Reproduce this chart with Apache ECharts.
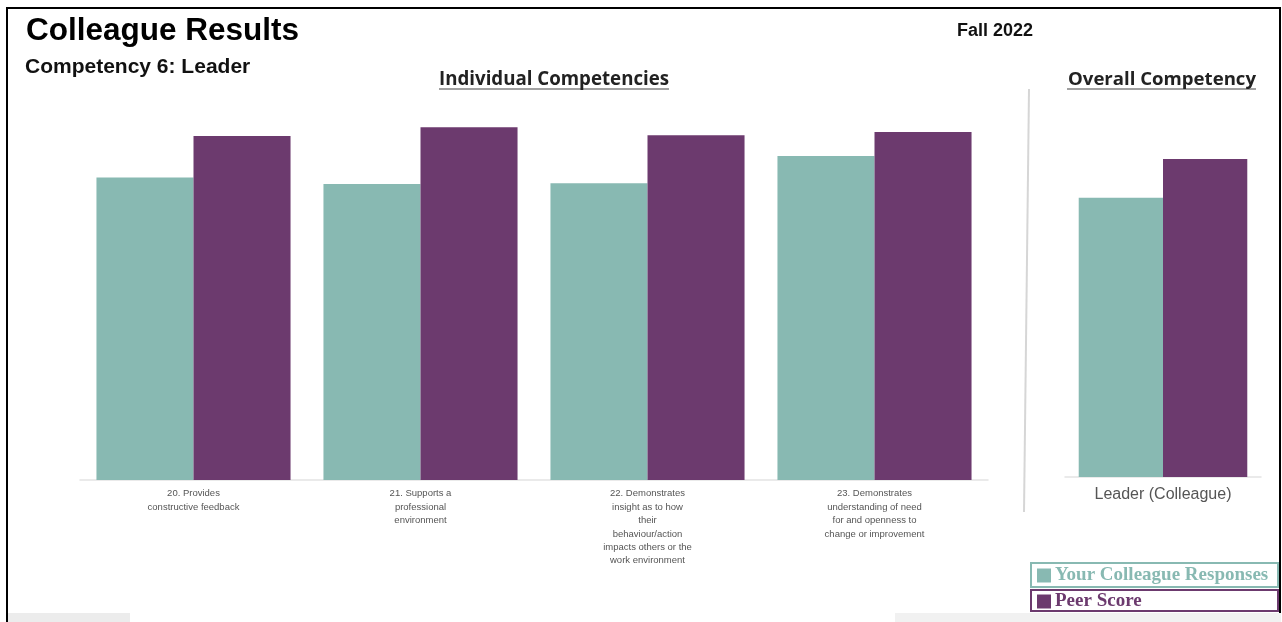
<!DOCTYPE html>
<html>
<head>
<meta charset="utf-8">
<script src="https://cdn.jsdelivr.net/npm/echarts@6/dist/echarts.min.js"></script>
<style>
html,body{margin:0;padding:0;background:#fff;}
#chart{width:1282px;height:622px;}
</style>
</head>
<body>
<div id="chart"></div>
<script>
const categories = [
  "20. Provides\nconstructive feedback",
  "21. Supports a\nprofessional\nenvironment",
  "22. Demonstrates\ninsight as to how\ntheir\nbehaviour/action\nimpacts others or the\nwork environment",
  "23. Demonstrates\nunderstanding of need\nfor and openness to\nchange or improvement"
];
const colleagueScores = [3.78, 3.70, 3.71, 4.05];
const peerScores = [4.30, 4.41, 4.31, 4.35];
const overallCategory = ["Leader (Colleague)"];
const overallColleague = [3.81];
const overallPeer = [4.34];
const seriesNames = ["Your Colleague Responses", "Peer Score"];

const TEAL = "#88B9B2";
const PURPLE = "#6C3A6E";

const chart = echarts.init(document.getElementById('chart'), null, {renderer: 'canvas'});
const titleFont = "'Liberation Sans', Arial, sans-serif";
const headFont = "'Open Sans', 'Noto Sans', sans-serif";
const legendFont = "'Liberation Serif', 'DejaVu Serif', serif";

const option = {
  animation: false,
  backgroundColor: '#fff',
  title: [
    {text: 'Colleague Results', left: 21, top: 10,
     textStyle: {fontFamily: titleFont, fontSize: 31.5, fontWeight: 'bold', color: '#000'}},
    {text: 'Competency 6: Leader', left: 20, top: 52,
     textStyle: {fontFamily: titleFont, fontSize: 21, fontWeight: 'bold', color: '#111'}},
    {text: 'Fall 2022', left: 952, top: 17,
     textStyle: {fontFamily: titleFont, fontSize: 18, fontWeight: 'bold', color: '#111'}},
    {text: 'Individual Competencies', left: 434, top: 65,
     textStyle: {fontFamily: headFont, fontSize: 18.7, fontWeight: 'bold', color: '#222'}},
    {text: 'Overall Competency', left: 1063, top: 65,
     textStyle: {fontFamily: headFont, fontSize: 18.6, fontWeight: 'bold', color: '#222'}}
  ],
  legend: [
    {data: [seriesNames[0]], left: 1037, top: 566, icon: 'rect', itemWidth: 14, itemHeight: 14,
     itemGap: 4, padding: 0, selectedMode: false,
     textStyle: {fontFamily: legendFont, fontSize: 19, fontWeight: 'bold', color: TEAL, padding: [0,0,0,-1]}},
    {data: [seriesNames[1]], left: 1037, top: 592, icon: 'rect', itemWidth: 14, itemHeight: 14,
     itemGap: 4, padding: 0, selectedMode: false,
     textStyle: {fontFamily: legendFont, fontSize: 19, fontWeight: 'bold', color: PURPLE, padding: [0,0,0,-1]}}
  ],
  grid: [
    {left: 80, right: 1282 - 988, top: 80, bottom: 142},
    {left: 1065, right: 21, top: 110.6, bottom: 145}
  ],
  xAxis: [
    {type: 'category', gridIndex: 0, data: categories,
     axisLine: {lineStyle: {color: '#e3e3e3', width: 1.5}}, axisTick: {show: false},
     axisLabel: {interval: 0, margin: 7, fontFamily: "'Liberation Sans', Arial, sans-serif",
                 fontSize: 9.5, lineHeight: 13.4, color: '#555', align: 'center'}},
    {type: 'category', gridIndex: 1, data: overallCategory,
     axisLine: {lineStyle: {color: '#e3e3e3', width: 1.5}}, axisTick: {show: false},
     axisLabel: {margin: 10, fontFamily: "'Liberation Sans', Arial, sans-serif", fontSize: 16, color: '#555'}}
  ],
  yAxis: [
    {type: 'value', gridIndex: 0, min: 0, max: 5, show: false, splitLine: {show: false}},
    {type: 'value', gridIndex: 1, min: 0, max: 5, show: false, splitLine: {show: false}}
  ],
  series: [
    {name: seriesNames[0], type: 'bar', xAxisIndex: 0, yAxisIndex: 0, data: colleagueScores,
     itemStyle: {color: TEAL}, barGap: '0%', barCategoryGap: '14.5%'},
    {name: seriesNames[1], type: 'bar', xAxisIndex: 0, yAxisIndex: 0, data: peerScores,
     itemStyle: {color: PURPLE}, barGap: '0%', barCategoryGap: '14.5%'},
    {name: seriesNames[0], type: 'bar', xAxisIndex: 1, yAxisIndex: 1, data: overallColleague,
     itemStyle: {color: TEAL}, barGap: '0%', barCategoryGap: '14%'},
    {name: seriesNames[1], type: 'bar', xAxisIndex: 1, yAxisIndex: 1, data: overallPeer,
     itemStyle: {color: PURPLE}, barGap: '0%', barCategoryGap: '14%'}
  ],
  graphic: [
    {type: 'rect', shape: {x: 7, y: 8, width: 1273, height: 620}, silent: true,
     style: {fill: 'none', stroke: '#000', lineWidth: 2}},
    {type: 'rect', shape: {x: 8, y: 613, width: 122, height: 9}, silent: true, style: {fill: '#ececec'}},
    {type: 'rect', shape: {x: 895, y: 613, width: 386, height: 9}, silent: true, style: {fill: '#f1f1f1'}},
    {type: 'line', shape: {x1: 439, y1: 89, x2: 669, y2: 89}, silent: true, style: {stroke: '#444', lineWidth: 1.2}},
    {type: 'line', shape: {x1: 1067, y1: 89, x2: 1256, y2: 89}, silent: true, style: {stroke: '#444', lineWidth: 1.2}},
    {type: 'line', shape: {x1: 1029, y1: 89, x2: 1024, y2: 512}, silent: true, style: {stroke: '#d6d6d6', lineWidth: 2}},
    {type: 'rect', shape: {x: 1031, y: 563, width: 247, height: 24}, silent: true,
     style: {fill: 'none', stroke: TEAL, lineWidth: 2}},
    {type: 'rect', shape: {x: 1031, y: 590, width: 247, height: 21}, silent: true,
     style: {fill: 'none', stroke: PURPLE, lineWidth: 2}}
  ]
};
chart.setOption(option);
</script>
</body>
</html>
